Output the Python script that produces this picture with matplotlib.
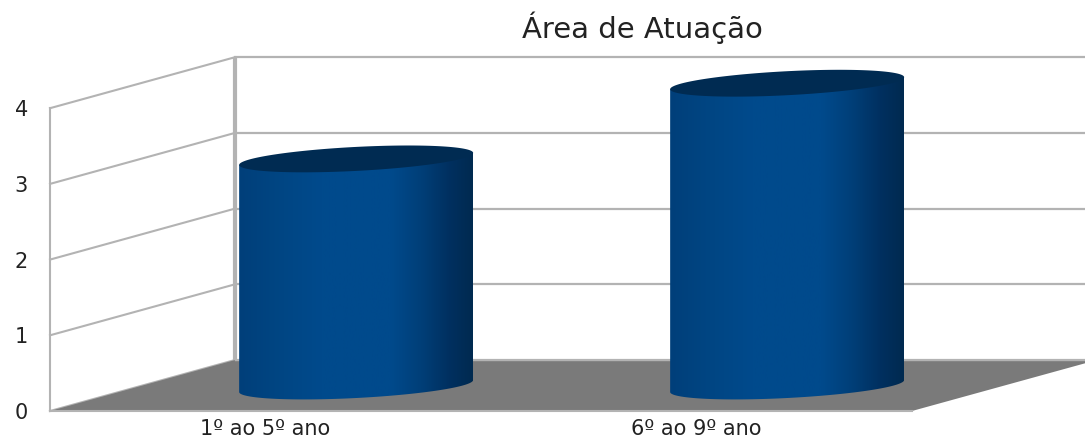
import matplotlib
matplotlib.use('Agg')
import matplotlib.pyplot as plt
import numpy as np
from matplotlib.colors import LinearSegmentedColormap
from matplotlib.patches import Polygon

categorias = ['1º ao 5º ano', '6º ao 9º ano']
valores = [3, 4]
ticks_y = [0, 1, 2, 3, 4]
titulo = 'Área de Atuação'

W, H = 1085, 444
# tamanho de uma unidade em pixels
px_x = 431.0
px_y = 75.7
# perspectiva
prof_x = 185 / px_x
prof_y = 51 / px_y
meio = 0.49
meia_larg = 117 / px_x
inclina = 6 / px_y
elipse_b = 12 / px_y

cinza = '#b3b3b3'
piso = '#7a7a7a'
topo = '#002b52'
degrade = LinearSegmentedColormap.from_list('cilindro', [
    (0.0, '#003f7a'), (0.15, '#004582'), (0.35, '#004a8c'), (0.65, '#004a8c'),
    (0.78, '#003f78'), (0.9, '#003060'), (1.0, '#002a50')])

fig = plt.figure(figsize=(W / 100, H / 100), dpi=100, facecolor='white')
ax = fig.add_axes([50 / W, (H - 411) / H, (W - 50) / W, 361 / H])
ax.set_facecolor('none')
for s in ax.spines.values():
    s.set_visible(False)

# paredes
for t in ticks_y:
    ax.plot([-0.5, -0.5 + prof_x], [t, t + prof_y], color=cinza, lw=1.5, zorder=1, clip_on=False)
    ax.plot([-0.5 + prof_x, 1.5 + prof_x], [t + prof_y, t + prof_y], color=cinza, lw=1.6, zorder=1)
ax.plot([-0.5, -0.5], [0, ticks_y[-1]], color=cinza, lw=1.5, zorder=1, clip_on=False)
ax.plot([-0.5 + prof_x] * 2, [prof_y, ticks_y[-1] + prof_y], color=cinza, lw=3, zorder=1,
        solid_capstyle='butt')

# piso
ax.add_patch(Polygon([(-0.5, 0), (1.5, 0), (1.5 + prof_x, prof_y), (-0.5 + prof_x, prof_y)],
                     facecolor=piso, edgecolor='none', zorder=2))
ax.plot([-0.5, 1.5], [0, 0], color=cinza, lw=1.5, zorder=2, clip_on=False)
ax.plot([-0.5 + prof_x, 1.5 + prof_x], [prof_y, prof_y], color=cinza, lw=1.0, zorder=2)

# cilindros
ang = np.linspace(0, 2 * np.pi, 200)
for i, v in enumerate(valores):
    cx = i + meio * prof_x
    cy = meio * prof_y
    baixo = np.linspace(np.pi, 2 * np.pi, 100)
    bx = cx + meia_larg * np.cos(baixo)
    by = cy + inclina * np.cos(baixo) + elipse_b * np.sin(baixo)
    corpo = np.vstack([np.column_stack([bx, by]),
                       [cx + meia_larg, cy + v + inclina],
                       [cx - meia_larg, cy + v - inclina]])
    clip = Polygon(corpo, transform=ax.transData, facecolor='none', edgecolor='none')
    ax.add_patch(clip)
    im = ax.imshow(np.linspace(0, 1, 256).reshape(1, -1), cmap=degrade, aspect='auto',
                   extent=[cx - meia_larg, cx + meia_larg, cy - 1, cy + v + 1], zorder=3)
    im.set_clip_path(clip)
    tx = cx + meia_larg * np.cos(ang)
    ty = cy + v + inclina * np.cos(ang) + elipse_b * np.sin(ang)
    ax.fill(tx, ty, color=topo, lw=0, zorder=4)

ax.set_xlim(-0.5, -0.5 + (W - 50) / px_x)
ax.set_ylim(0, 361 / px_y)
ax.set_yticks(ticks_y)
ax.set_xticks(range(len(categorias)))
ax.set_xticklabels(categorias)
ax.tick_params(axis='y', length=0, pad=16, labelsize=15, labelcolor='#222222')
ax.tick_params(axis='x', length=0, pad=6, labelsize=15, labelcolor='#222222')
fig.text(642 / W, (H - 28) / H, titulo, ha='center', va='center', fontsize=21, color='#222222')

plt.savefig('out.png', dpi=100)
plt.close()
